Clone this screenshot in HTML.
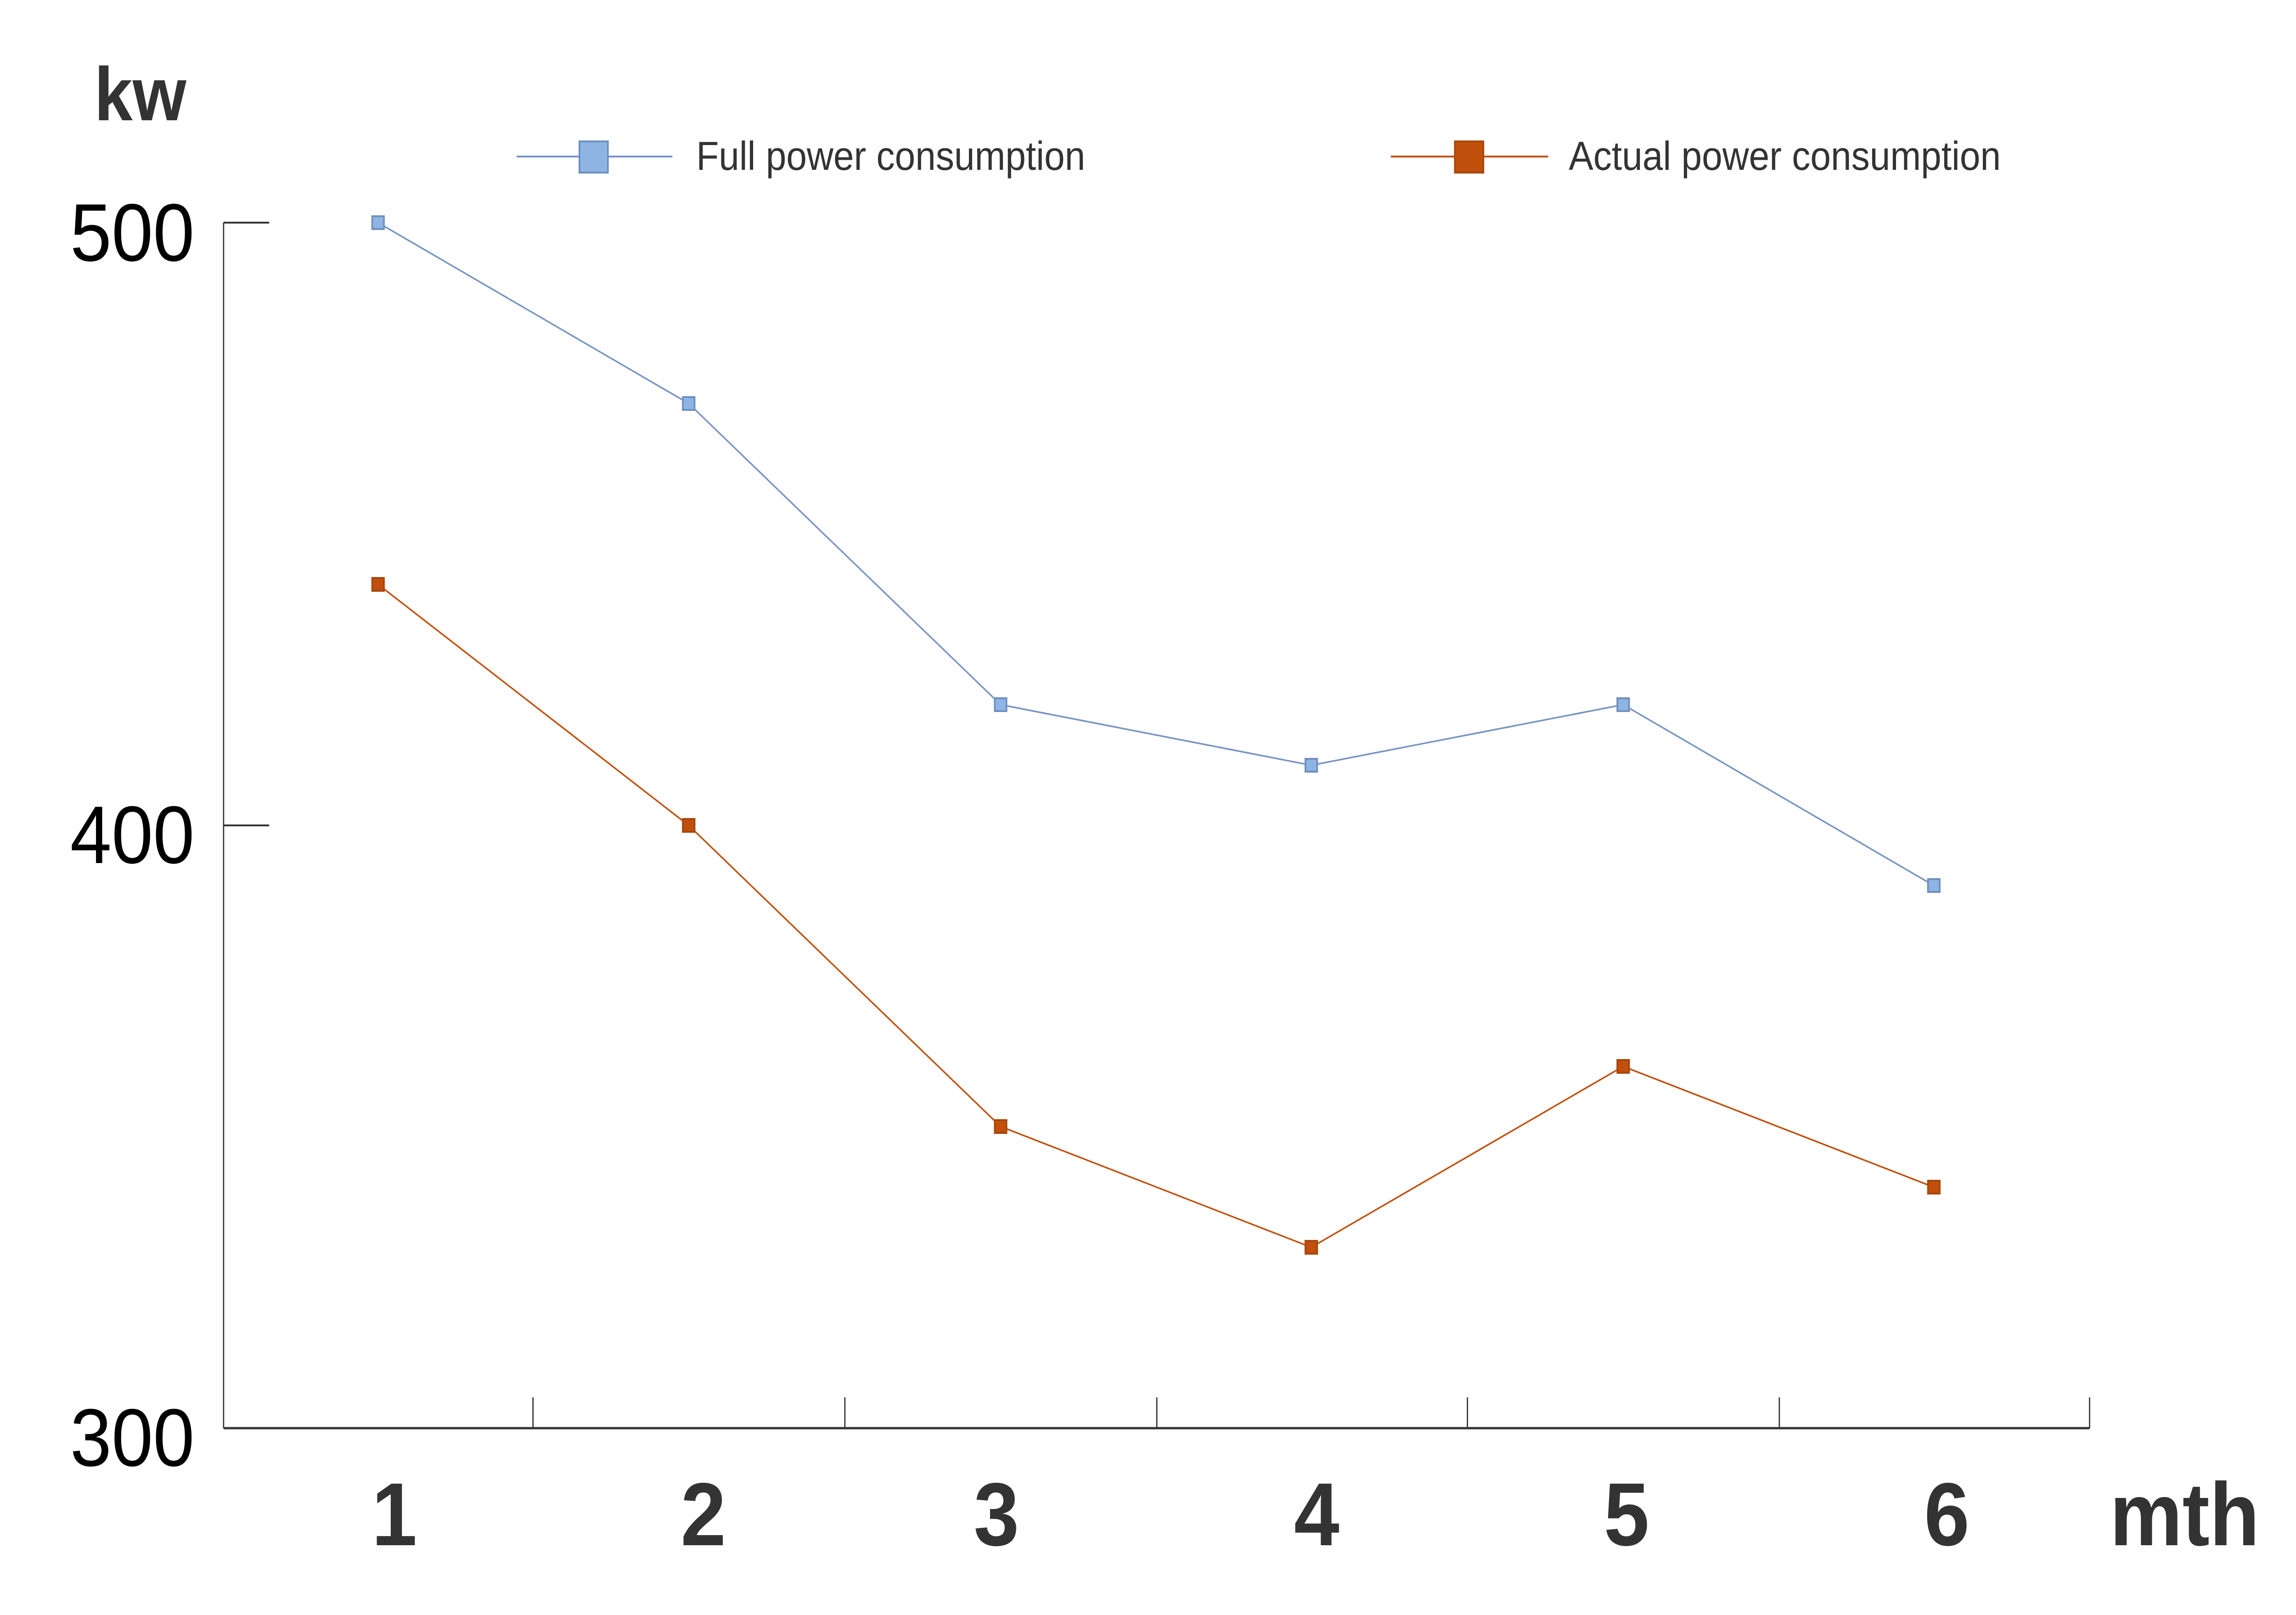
<!DOCTYPE html>
<html><head><meta charset="utf-8"><style>
html,body{margin:0;padding:0;background:#fff;width:100%;height:100%;overflow:hidden;}
svg{display:block;width:100vw;height:100vh;}
text{font-family:"Liberation Sans",sans-serif;}
</style></head><body>
<svg viewBox="0 0 5484 3518" preserveAspectRatio="none" xmlns="http://www.w3.org/2000/svg">
<rect width="5484" height="3518" fill="#fff"/>
<line x1="534" y1="485" x2="534" y2="3111" stroke="#333" stroke-width="3"/>
<line x1="534" y1="3111" x2="4991" y2="3111" stroke="#333" stroke-width="5"/>
<line x1="534" y1="485" x2="643" y2="485" stroke="#333" stroke-width="4"/>
<line x1="534" y1="1798" x2="643" y2="1798" stroke="#333" stroke-width="4"/>
<g stroke="#333" stroke-width="3">
<line x1="1273" y1="3044" x2="1273" y2="3111"/>
<line x1="2018" y1="3044" x2="2018" y2="3111"/>
<line x1="2763" y1="3044" x2="2763" y2="3111"/>
<line x1="3505" y1="3044" x2="3505" y2="3111"/>
<line x1="4250" y1="3044" x2="4250" y2="3111"/>
<line x1="4991" y1="3044" x2="4991" y2="3111"/>
</g>
<g font-size="178" fill="#000" text-anchor="middle">
<text x="316" y="568">500</text>
<text x="316" y="1880">400</text>
<text x="316" y="3193">300</text>
</g>
<text x="335" y="262" font-size="165" font-weight="bold" fill="#333" text-anchor="middle">kw</text>
<g font-size="195" font-weight="bold" fill="#333" text-anchor="middle">
<text x="942" y="3366">1</text>
<text x="1680" y="3366">2</text>
<text x="2380" y="3366">3</text>
<text x="3145" y="3366">4</text>
<text x="3885" y="3366">5</text>
<text x="4650" y="3366">6</text>
<text x="5218" y="3366">mth</text>
</g>
<line x1="1234" y1="341" x2="1606" y2="341" stroke="#7793c1" stroke-width="4"/>
<rect x="1384" y="308" width="68" height="68" fill="#8db4e2" stroke="#6e8fbf" stroke-width="4"/>
<text x="1663" y="370" font-size="88" fill="#333">Full power consumption</text>
<line x1="3322" y1="341" x2="3698" y2="341" stroke="#c0500c" stroke-width="4"/>
<rect x="3475" y="308" width="68" height="68" fill="#c0500c" stroke="#a8460a" stroke-width="4"/>
<text x="3747" y="370" font-size="88" fill="#333">Actual power consumption</text>
<polyline fill="none" stroke="#7793c1" stroke-width="3.5" points="903,485 1645,879 2390,1535 3132,1667 3877,1535 4619,1929"/>
<polyline fill="none" stroke="#c0500c" stroke-width="3.5" points="903,1273 1645,1798 2390,2454 3132,2717 3877,2323 4619,2586"/>
<g fill="#8db4e2" stroke="#6e8fbf" stroke-width="4">
<rect x="889" y="471" width="28" height="28"/>
<rect x="1631" y="865" width="28" height="28"/>
<rect x="2376" y="1521" width="28" height="28"/>
<rect x="3118" y="1653" width="28" height="28"/>
<rect x="3863" y="1521" width="28" height="28"/>
<rect x="4605" y="1915" width="28" height="28"/>
</g>
<g fill="#c0500c" stroke="#a8460a" stroke-width="4">
<rect x="889" y="1259" width="28" height="28"/>
<rect x="1631" y="1784" width="28" height="28"/>
<rect x="2376" y="2440" width="28" height="28"/>
<rect x="3118" y="2703" width="28" height="28"/>
<rect x="3863" y="2309" width="28" height="28"/>
<rect x="4605" y="2572" width="28" height="28"/>
</g>
</svg>
</body></html>
